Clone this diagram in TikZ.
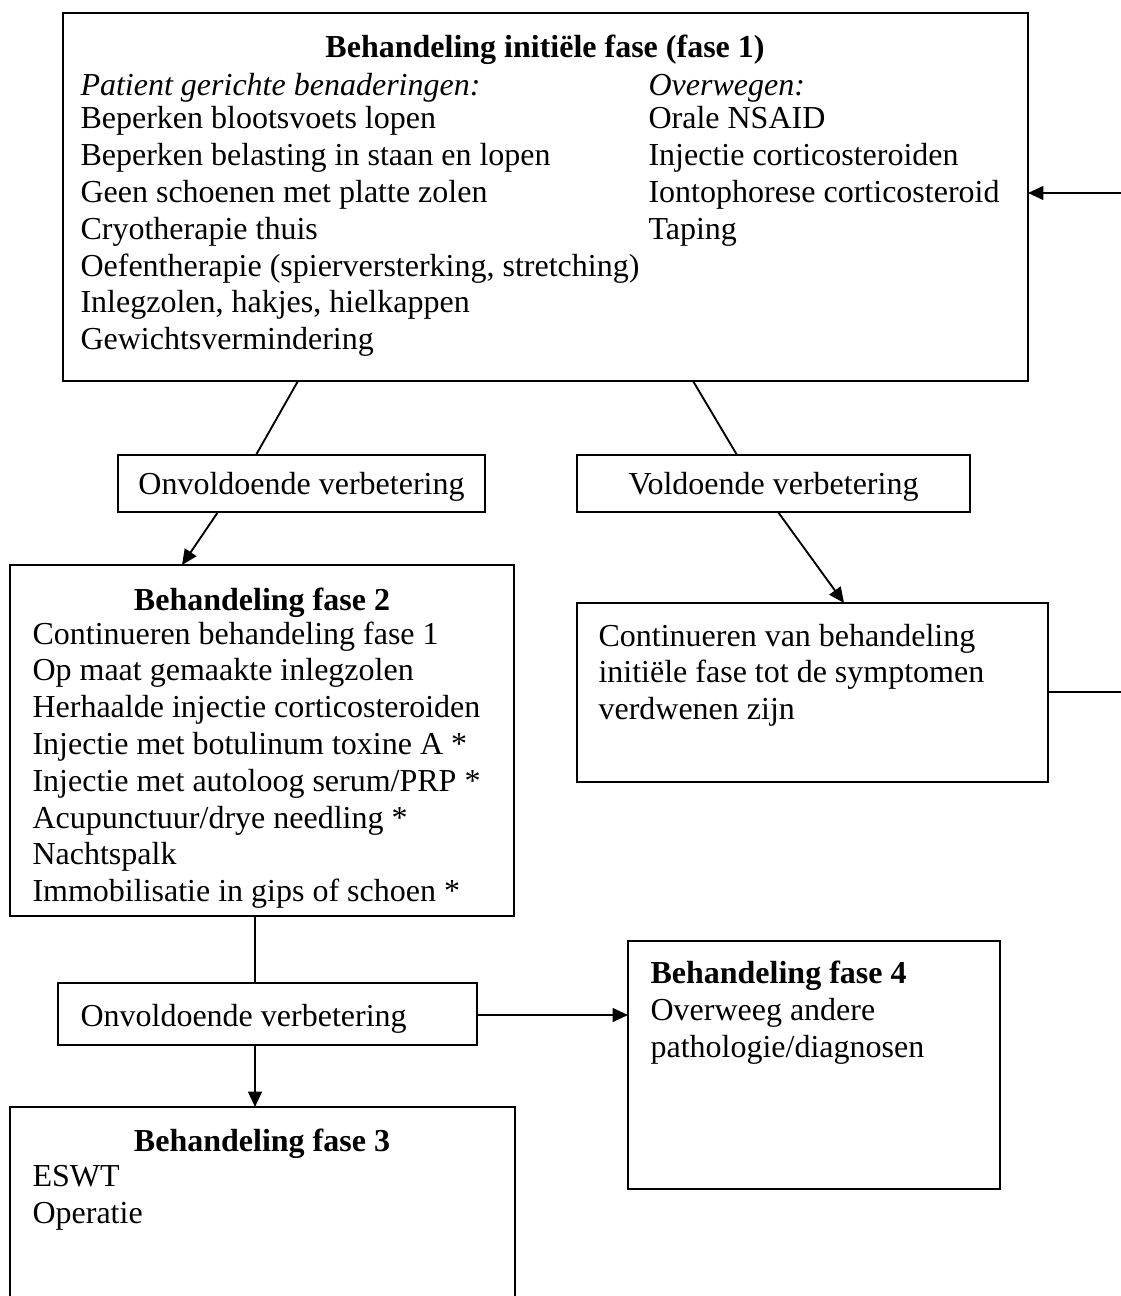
\documentclass[tikz,border=0pt]{standalone}
\usepackage{fontspec}
\setmainfont{Liberation Serif}
\usetikzlibrary{fit,arrows.meta}
\begin{document}
\begin{tikzpicture}[x=0.375pt,y=-0.375pt,
  box/.style={draw,line width=0.7pt,inner sep=0pt},
  txt/.style={anchor=west,inner sep=0pt,text height=8.5pt,text depth=2.5pt,font=\fontsize{12}{14}\selectfont},
  ttl/.style={txt,anchor=center,font=\fontsize{12}{14}\selectfont\bfseries},
  conn/.style={line width=0.7pt},
  arr/.style={line width=0.7pt,-{Triangle[length=5.8pt,width=5.2pt]}}]
\useasboundingbox (0,0) rectangle (1120,1296);
% boxes
\node[box,fit={(63,13) (1028,381)}] (b1) {};
\node[box,fit={(118,455) (485,512)}] (on1) {};
\node[box,fit={(577,455) (970,512)}] (vo) {};
\node[box,fit={(10,565) (514,916)}] (b2) {};
\node[box,fit={(577,603) (1048,782)}] (bc) {};
\node[box,fit={(58,983) (477,1045)}] (on2) {};
\node[box,fit={(628,941) (1000,1189)}] (b4) {};
\node[box,fit={(10,1107) (515,1310)}] (b3) {};
% box 1 text
\node[ttl] (t1) at (545,50) {Behandeling initiële fase (fase 1)};
\node[txt,font=\fontsize{12}{14}\selectfont\itshape] (t1a) at (80,88) {Patient gerichte benaderingen:};
\node[txt,font=\fontsize{12}{14}\selectfont\itshape] (t1b) at (648,88) {Overwegen:};
\foreach \s [count=\i from 0] in {Beperken blootsvoets lopen,Beperken belasting in staan en lopen,Geen schoenen met platte zolen,Cryotherapie thuis,{Oefentherapie (spierversterking, stretching)},{Inlegzolen, hakjes, hielkappen},Gewichtsvermindering}
  \node[txt] (l1-\i) at (80,121+\i*36.8) {\s};
\foreach \s [count=\i from 0] in {Orale NSAID,Injectie corticosteroiden,Iontophorese corticosteroid,Taping}
  \node[txt] (r1-\i) at (648,121+\i*36.8) {\s};
% small boxes
\node[txt,anchor=center] (on1t) at ([yshift=-1.3pt]on1.center) {Onvoldoende verbetering};
\node[txt,anchor=center] (vot) at ([yshift=-1.3pt]vo.center) {Voldoende verbetering};
% box 2
\node[ttl] (t2) at (262,602) {Behandeling fase 2};
\foreach \s [count=\i from 0] in {Continueren behandeling fase 1,Op maat gemaakte inlegzolen,Herhaalde injectie corticosteroiden,Injectie met botulinum toxine A *,Injectie met autoloog serum/PRP *,Acupunctuur/drye needling *,Nachtspalk,Immobilisatie in gips of schoen *}
  \node[txt] (l2-\i) at (32,636+\i*36.8) {\s};
% continue box
\foreach \s [count=\i from 0] in {Continueren van behandeling,initiële fase tot de symptomen,verdwenen zijn}
  \node[txt] (lc-\i) at (598,638+\i*36.8) {\s};
% second onvoldoende
\node[txt] (on2t) at (80,1018) {Onvoldoende verbetering};
% box 4
\node[txt,font=\fontsize{12}{14}\selectfont\bfseries] (t4) at (650,975) {Behandeling fase 4};
\node[txt] (l4-0) at (650,1012) {Overweeg andere};
\node[txt] (l4-1) at (650,1049) {pathologie/diagnosen};
% box 3
\node[ttl] (t3) at (262,1143) {Behandeling fase 3};
\node[txt] (l3-0) at (32,1178) {ESWT};
\node[txt] (l3-1) at (32,1215) {Operatie};
% connectors
\coordinate (c1) at (298,381); \coordinate (c2) at (256,455);
\draw[conn] (c1) -- (c2);
\coordinate (c3) at (693,381); \coordinate (c4) at (737,455);
\draw[conn] (c3) -- (c4);
\coordinate (c5) at (218,512); \coordinate (c6) at (182,565);
\draw[arr] (c5) -- (c6);
\coordinate (c7) at (778,512); \coordinate (c8) at (844,603);
\draw[arr] (c7) -- (c8);
\coordinate (r0) at (1048,692); \coordinate (r1) at (1140,692); \coordinate (r2) at (1140,193); \coordinate (r3) at (1028,193);
\draw[arr] (r0) -- (r1) -- (r2) -- (r3);
\coordinate (d1) at (255,916); \coordinate (d2) at (255,983);
\draw[conn] (d1) -- (d2);
\coordinate (d3) at (255,1045); \coordinate (d4) at (255,1107);
\draw[arr] (d3) -- (d4);
\coordinate (e1) at (477,1015); \coordinate (e2) at (628,1015);
\draw[arr] (e1) -- (e2);
\end{tikzpicture}
\end{document}
